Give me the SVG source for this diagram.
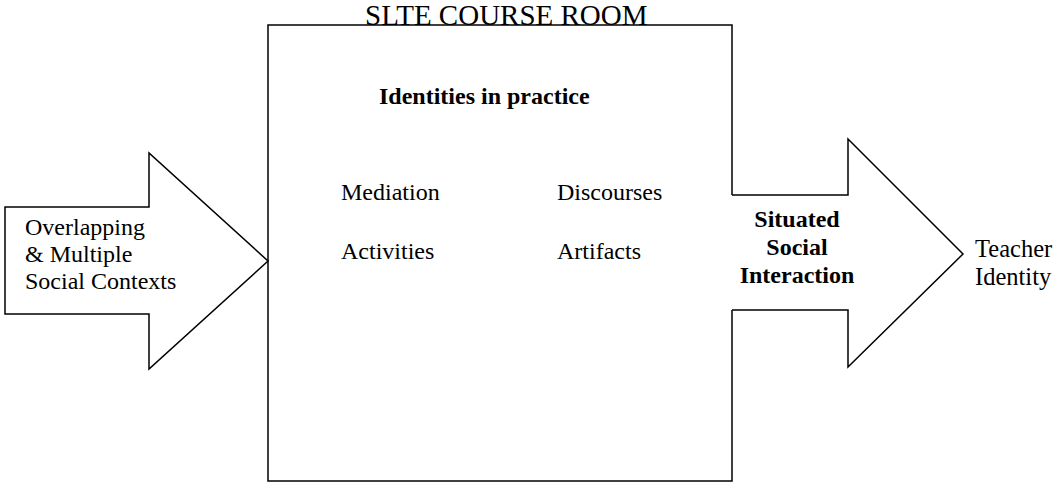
<svg xmlns="http://www.w3.org/2000/svg" width="1062" height="483" viewBox="0 0 1062 483">
<style>
.sh{fill:#fff;stroke:#000;stroke-width:1.5;stroke-linejoin:miter}
.t{font-family:"Liberation Serif","Times New Roman",serif;font-size:24px;fill:#000}
.b{font-weight:bold}
</style>
<rect width="1062" height="483" fill="#fff"/>
<g id="course-room">
<rect x="268" y="25" width="464" height="456" fill="#fff"/>
<path class="sh" d="M732,195 V25 H268 V481 H732 V310" style="fill:none"/>
<text class="t" x="365" y="25" style="font-size:29px">SLTE COURSE ROOM</text>
<text class="t b" x="379" y="104">Identities in practice</text>
<text class="t" x="341" y="200">Mediation</text>
<text class="t" x="557" y="200">Discourses</text>
<text class="t" x="341" y="259">Activities</text>
<text class="t" x="557" y="259">Artifacts</text>
</g>
<g id="social-contexts">
<path class="sh" d="M5,207 H149 V153 L268,261 L149,369 V314 H5 Z"/>
<text class="t" x="25" y="235">Overlapping</text>
<text class="t" x="25" y="262">&amp; Multiple</text>
<text class="t" x="25" y="289">Social Contexts</text>
</g>
<g id="situated-interaction">
<path class="sh" d="M732,195 H848 V139 L963,254 L848,367 V310 H732"/>
<text class="t b" text-anchor="middle" x="797" y="227">Situated</text>
<text class="t b" text-anchor="middle" x="797" y="255">Social</text>
<text class="t b" text-anchor="middle" x="797" y="283">Interaction</text>
</g>
<g id="teacher-identity">
<text class="t" x="975" y="257" style="font-size:24.5px">Teacher</text>
<text class="t" x="975" y="284.5" style="font-size:24.5px">Identity</text>
</g>
<g id="connectors"></g>
</svg>
